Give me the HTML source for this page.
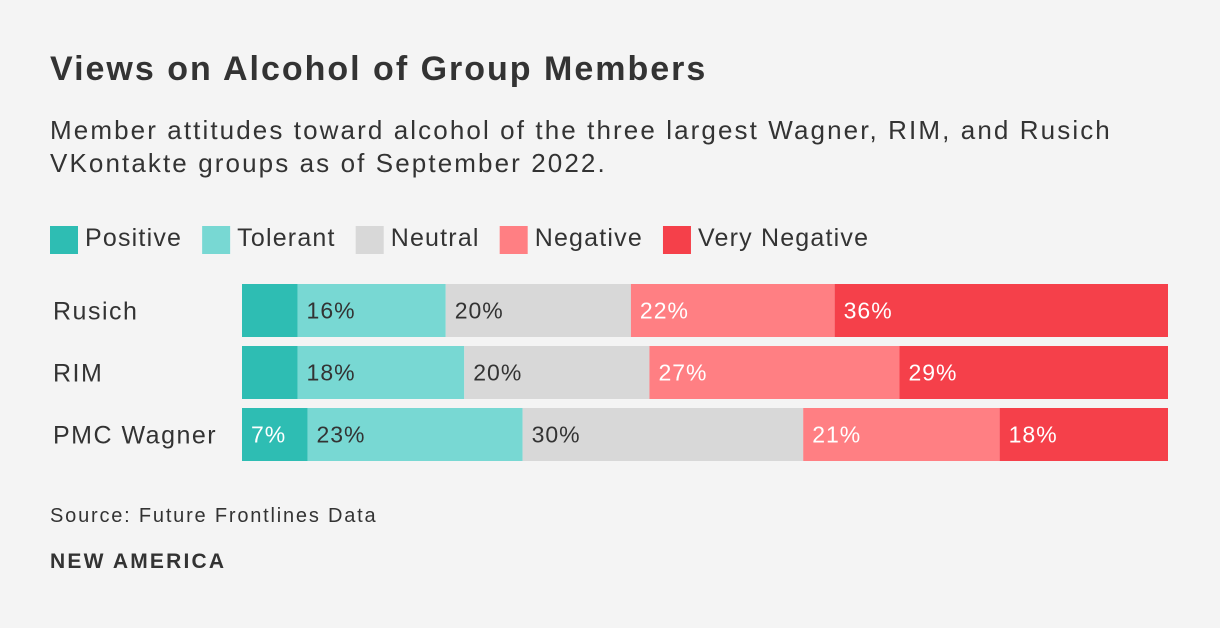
<!DOCTYPE html>
<html><head><meta charset="utf-8">
<style>
body{margin:0;width:1220px;height:628px;background:#f4f4f4;font-family:"Liberation Sans",sans-serif;color:#333;position:relative;overflow:hidden}
.t{position:absolute;white-space:nowrap}
</style></head><body>
<div class="t" style="left:50px;top:50px;font-size:34px;letter-spacing:2px;font-weight:bold;color:#333">Views on Alcohol of Group Members</div>
<div class="t" style="left:50px;top:114px;font-size:26px;letter-spacing:2.1px;line-height:33px;color:#333">Member attitudes toward alcohol of the three largest Wagner, RIM, and Rusich<br>VKontakte groups as of September 2022.</div>
<svg id="c" width="1220" height="628" style="position:absolute;left:0;top:0"></svg>
<div class="t" style="left:50px;top:505px;font-size:20px;letter-spacing:1.8px;color:#333">Source: Future Frontlines Data</div>
<div class="t" style="left:50px;top:550px;font-size:21px;letter-spacing:2.2px;font-weight:bold;color:#333">NEW AMERICA</div>
<script>
const categories=["Rusich","RIM","PMC Wagner"];
const seriesNames=["Positive","Tolerant","Neutral","Negative","Very Negative"];
const positive=[6,6,7];
const tolerant=[16,18,23];
const neutral=[20,20,30];
const negative=[22,27,21];
const veryNegative=[36,29,18];
const colors=["#2ebdb3","#78d8d3","#d8d8d8","#ff7f83","#f5404a"];
const textColors=["#fff","#333","#333","#fff","#fff"];
const series=[positive,tolerant,neutral,negative,veryNegative];
const svg=document.getElementById('c');
const NS="http://www.w3.org/2000/svg";
const x0=242,x1=1168,y0=284,bh=53,step=62;
function mk(t,a){const e=document.createElementNS(NS,t);for(const k in a)e.setAttribute(k,a[k]);svg.appendChild(e);return e;}
let lx=50;
seriesNames.forEach((n,i)=>{
  const r=mk('rect',{x:lx,y:226,width:28,height:28,fill:colors[i]});
  
  
  const t=mk('text',{x:lx+35,y:246,'font-size':25,'letter-spacing':1.2,fill:'#333','font-family':'Liberation Sans, sans-serif'});
  t.textContent=n;
  
  
  lx+=35+t.getComputedTextLength()+20;
});
categories.forEach((c,r)=>{
  const y=y0+r*step;
  const lbl=mk('text',{x:53,y:y+bh/2+9,'font-size':25,'letter-spacing':1.5,fill:'#333','font-family':'Liberation Sans, sans-serif'});
  lbl.textContent=c;
  
  
  const total=series.reduce((s,a)=>s+a[r],0);
  const sx=v=>v/total*(x1-x0);
  let cx=x0;
  series.forEach((a,i)=>{
    const w=sx(a[r]);
    const rect=mk('rect',{x:cx,y:y,width:w,height:bh,fill:colors[i]});
    
    
    if(a[r]>=7){
      const t=mk('text',{x:cx+9,y:y+bh/2+8,'font-size':23,'letter-spacing':1,fill:textColors[i],'font-family':'Liberation Sans, sans-serif'});
      t.textContent=a[r]+'%';
      
      
    }
    cx+=w;
  });
});
</script>
</body></html>
